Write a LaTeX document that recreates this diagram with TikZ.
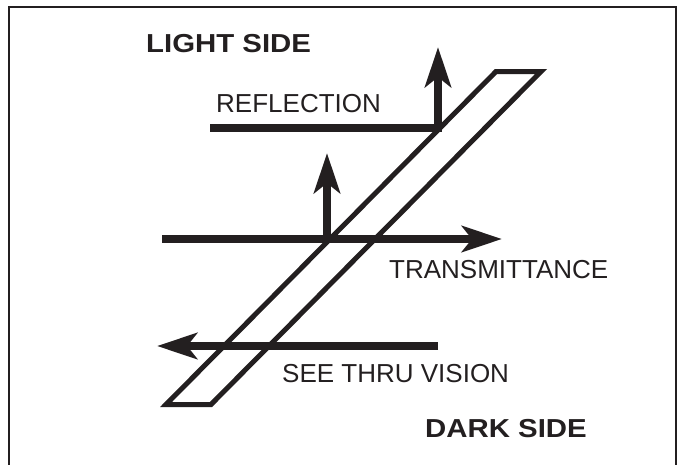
\documentclass[tikz,border=0pt]{standalone}
\usepackage{fontspec}
\setmainfont{Liberation Sans}
\usetikzlibrary{arrows.meta}
\definecolor{ink}{HTML}{231F20}
\tikzset{
  beam/.style={line width=8pt, ink},
  beamarrow/.style={beam, -{Stealth[length=40pt,width=26pt,inset=10pt]}},
  pane/.style={line width=5pt, ink, line join=miter},
  frame/.style={line width=2pt, ink},
  lbl/.style={inner sep=0pt, anchor=base west, text=ink, font=\fontsize{26}{28}\selectfont},
  side/.style={inner sep=0pt, anchor=base west, text=ink, font=\fontsize{26}{28}\selectfont\bfseries}
}
\begin{document}
\begin{tikzpicture}[x=1pt,y=-1pt]
\useasboundingbox (0,0) rectangle (679,464);
% frame
\draw[frame] (9,470) -- (9,7) -- (675.5,7) -- (675.5,470);
% pane
\coordinate (p1) at (496,71.5);
\coordinate (p2) at (541,71.5);
\coordinate (p3) at (211,404.5);
\coordinate (p4) at (166,404.5);
\draw[pane] (p1) -- (p2) -- (p3) -- (p4) -- cycle;
% reflection
\coordinate (r0) at (210,128);
\coordinate (r1) at (442,128);
\coordinate (rb) at (438,132);
\coordinate (rt) at (438,47);
\draw[beam] (r0) -- (r1);
\draw[beamarrow] (rb) -- (rt);
% transmittance
\coordinate (t0) at (162,239);
\coordinate (t1) at (502,239);
\coordinate (vb) at (327,243);
\coordinate (vt) at (327,153);
\draw[beamarrow] (t0) -- (t1);
\draw[beamarrow] (vb) -- (vt);
% see thru
\coordinate (s0) at (438,346);
\coordinate (s1) at (157,346);
\draw[beamarrow] (s0) -- (s1);
% labels
\node[side] (light) at (146,52) {\scalebox{1.13}[1]{LIGHT SIDE}};
\node[side] (dark) at (425,437) {\scalebox{1.13}[1]{DARK SIDE}};
\node[lbl] (refl) at (216,112) {REFLECTION};
\node[lbl] (trans) at (389,278) {TRANSMITTANCE};
\node[lbl] (see) at (282,382) {SEE THRU VISION};
\end{tikzpicture}
\end{document}
